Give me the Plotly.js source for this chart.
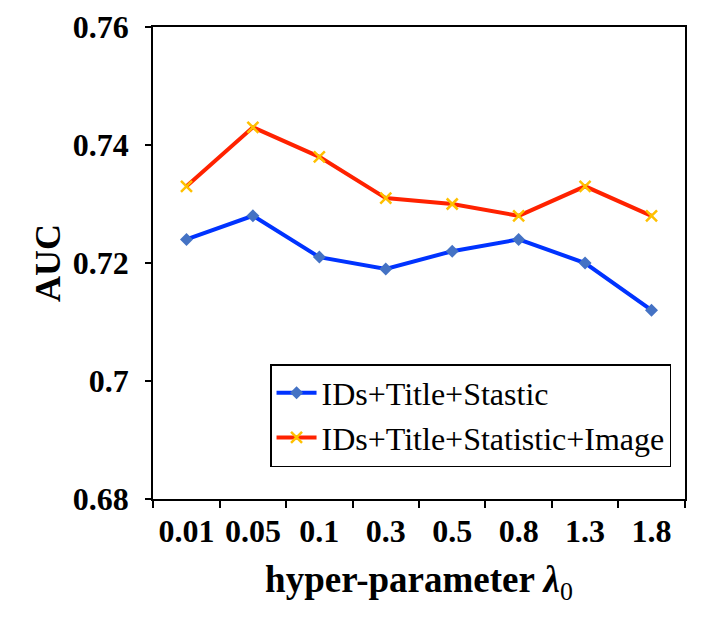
<!DOCTYPE html>
<html>
<head>
<meta charset="utf-8">
<script src="https://cdn.plot.ly/plotly-3.0.1.min.js"></script>
<style>body{margin:0;padding:0;background:#fff}</style>
</head>
<body>
<div id="myDiv"></div>
<script>
var lambdas = ["0.01", "0.05", "0.1", "0.3", "0.5", "0.8", "1.3", "1.8"];
var aucStastic = [0.724, 0.728, 0.721, 0.719, 0.722, 0.724, 0.720, 0.712];
var aucImage = [0.733, 0.743, 0.738, 0.731, 0.730, 0.728, 0.733, 0.728];
var yTicks = [0.68, 0.70, 0.72, 0.74, 0.76];
var yTickText = ["0.68", "0.7", "0.72", "0.74", "0.76"];

var serif = "'Liberation Serif', 'Times New Roman', serif";

var data = [
  {
    x: lambdas,
    y: aucStastic,
    name: "IDs+Title+Stastic",
    type: "scatter",
    mode: "lines+markers",
    line: { color: "#0033ff", width: 4 },
    marker: { symbol: "diamond", size: 10, color: "#4472c4" }
  },
  {
    x: lambdas,
    y: aucImage,
    name: "IDs+Title+Statistic+Image",
    type: "scatter",
    mode: "lines+markers",
    line: { color: "#ff2200", width: 4 },
    marker: { symbol: "x-thin", size: 11, color: "#ffc000", line: { color: "#ffc000", width: 2.5 } }
  }
];

var layout = {
  width: 706,
  height: 629,
  margin: { l: 153, r: 21, t: 27, b: 130 },
  paper_bgcolor: "#fff",
  plot_bgcolor: "#fff",
  font: { family: serif, color: "#000" },
  showlegend: true,
  legend: {
    x: 0.22, y: 0.286, xanchor: "left", yanchor: "top",
    bordercolor: "#000", borderwidth: 1.5, bgcolor: "#fff",
    font: { family: serif, size: 32, color: "#000" },
    itemwidth: 40,
    tracegroupgap: 0
  },
  xaxis: {
    type: "category",
    tickson: "boundaries",
    ticks: "outside", ticklen: 7, tickwidth: 1.5, tickcolor: "#000",
    showline: true, linecolor: "#000", linewidth: 1.5, mirror: true,
    showgrid: false, zeroline: false,
    ticklabelstandoff: 3,
    tickfont: { family: serif, size: 32, color: "#000", weight: "bold" },
    title: { text: "<b>hyper-parameter <i>λ</i></b><sub>0</sub>", font: { family: serif, size: 37, color: "#000" }, standoff: 18 }
  },
  yaxis: {
    range: [0.68, 0.76],
    tickvals: yTicks, ticktext: yTickText,
    ticks: "outside", ticklen: 6, tickwidth: 1.5, tickcolor: "#000",
    showline: true, linecolor: "#000", linewidth: 1.5, mirror: true,
    showgrid: false, zeroline: false,
    ticklabelstandoff: 10,
    tickfont: { family: serif, size: 32, color: "#000", weight: "bold" },
    title: { text: "<b>AUC</b>", font: { family: serif, size: 36, color: "#000" }, standoff: 1 }
  }
};

Plotly.newPlot("myDiv", data, layout, { displayModeBar: false });
</script>
</body>
</html>
